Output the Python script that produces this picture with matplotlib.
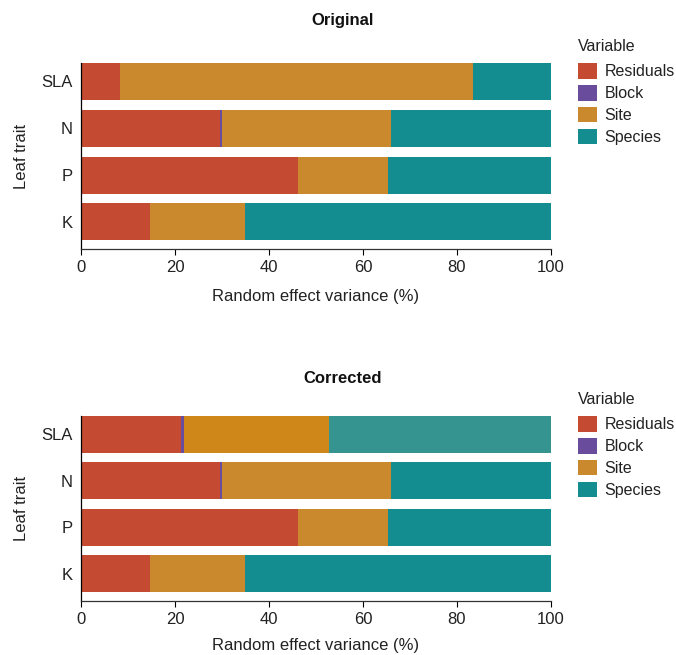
import matplotlib

matplotlib.use("Agg")

import matplotlib.pyplot as plt
from matplotlib.patches import Patch

plt.rcParams["font.family"] = ["Liberation Sans", "DejaVu Sans"]

TRAITS = ["SLA", "N", "P", "K"]
COMPONENTS = ["Residuals", "Block", "Site", "Species"]

# variance share (%) per trait, order SLA, N, P, K
ORIG_RESIDUALS = [8.2, 29.6, 46.2, 14.7]
ORIG_BLOCK = [0.2, 0.3, 0.0, 0.0]
ORIG_SITE = [75.0, 36.1, 19.1, 20.2]
ORIG_SPECIES = [16.6, 34.0, 34.7, 65.1]

CORR_RESIDUALS = [21.3, 29.6, 46.2, 14.7]
CORR_BLOCK = [0.6, 0.3, 0.0, 0.0]
CORR_SITE = [30.9, 36.1, 19.1, 20.2]
CORR_SPECIES = [47.2, 34.0, 34.7, 65.1]

COLORS = {
    "Residuals": "#C44B32",
    "Block": "#6A4C9C",
    "Site": "#CB892D",
    "Species": "#138D8F",
}
# the corrected SLA bar is drawn with slightly different shades
CORR_SLA_COLORS = {"Site": "#D08719", "Species": "#35948F"}

FS = 12
LEG_FS = 11.5


def draw_panel(fig, rect, title, title_y, legend_y, series, overrides=None,
               xlabel_pad=10):
    ax = fig.add_axes(rect)
    ypos = list(range(len(TRAITS)))[::-1]
    left = [0.0] * len(TRAITS)
    for comp, values in zip(COMPONENTS, series):
        colors = [COLORS[comp]] * len(TRAITS)
        if overrides:
            for idx, shades in overrides.items():
                if comp in shades:
                    colors[idx] = shades[comp]
        ax.barh(ypos, values, left=left, height=0.79, color=colors, linewidth=0)
        left = [a + b for a, b in zip(left, values)]

    ax.set_xlim(0, 100)
    ax.set_ylim(-0.58, 3.395)
    ax.set_yticks(ypos)
    ax.set_yticklabels(TRAITS)
    ax.set_xticks([0, 20, 40, 60, 80, 100])
    ax.tick_params(axis="y", length=0, pad=6, labelsize=FS, colors="#222222")
    ax.tick_params(axis="x", length=4, width=0.8, pad=4, labelsize=FS,
                   labelcolor="#222222")
    ax.spines["top"].set_visible(False)
    ax.spines["right"].set_visible(False)
    ax.spines["left"].set_linewidth(0.9)
    ax.spines["bottom"].set_linewidth(0.9)
    ax.spines["bottom"].set_color("#333333")
    ax.set_xlabel("Random effect variance (%)", fontsize=FS, color="#222222",
                  labelpad=xlabel_pad)
    ax.set_ylabel("Leaf trait", fontsize=FS, color="#222222", labelpad=9)

    fig.text(343 / 676, title_y, title, ha="center", va="center",
             fontsize=FS, fontweight="bold", color="#111111")

    handles = [Patch(facecolor=COLORS[c], edgecolor="none") for c in COMPONENTS]
    leg = fig.legend(handles, COMPONENTS, loc="upper left",
                     bbox_to_anchor=(572 / 676, legend_y), frameon=False,
                     title="Variable", title_fontsize=LEG_FS, fontsize=LEG_FS,
                     handlelength=1.15, handleheight=1.15, handletextpad=0.5,
                     labelspacing=0.35, borderaxespad=0, alignment="left")
    leg.get_title().set_color("#222222")
    leg._legend_box.sep = 6
    for t in leg.get_texts():
        t.set_color("#222222")
    return ax


fig = plt.figure(figsize=(6.76, 6.55), dpi=100)

draw_panel(
    fig,
    [81 / 676, 1 - 249 / 655, 470 / 676, 186 / 655],
    "Original",
    1 - 20 / 655,
    1 - 33 / 655,
    [ORIG_RESIDUALS, ORIG_BLOCK, ORIG_SITE, ORIG_SPECIES],
    xlabel_pad=10,
)
draw_panel(
    fig,
    [81 / 676, 1 - 600.7 / 655, 470 / 676, 184.7 / 655],
    "Corrected",
    1 - 378 / 655,
    1 - 386 / 655,
    [CORR_RESIDUALS, CORR_BLOCK, CORR_SITE, CORR_SPECIES],
    overrides={0: CORR_SLA_COLORS},
    xlabel_pad=8,
)

fig.savefig("out.png", dpi=100)
